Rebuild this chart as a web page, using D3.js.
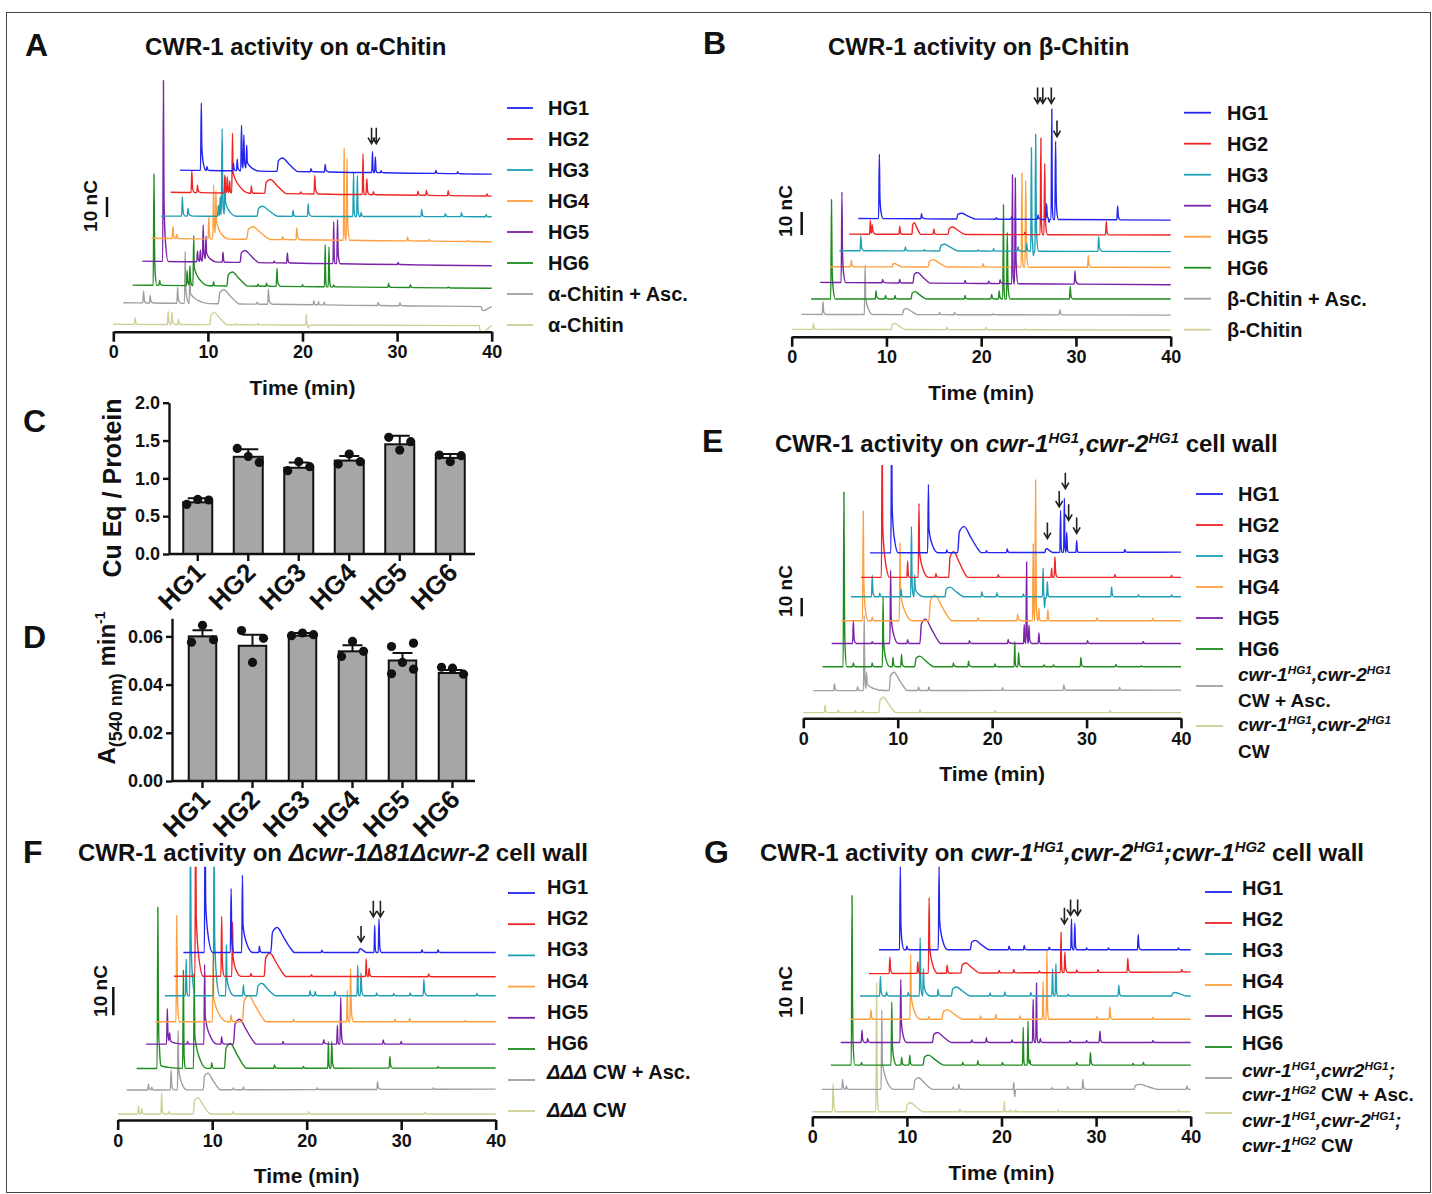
<!DOCTYPE html>
<html>
<head>
<meta charset="utf-8">
<script src="https://cdn.jsdelivr.net/npm/d3@7"></script>
<style>
  body { margin: 0; background: #fff; }
  text { font-family: "Liberation Sans", Arial, Helvetica, sans-serif; font-weight: bold; fill: #111; }
</style>
</head>
<body>
<svg id="fig" width="1432" height="1194"></svg>
<script>
// ---------- data ----------
const timeTicks = [0, 10, 20, 30, 40];
const hgNames = ["HG1", "HG2", "HG3", "HG4", "HG5", "HG6"];

// colour of each legend row (HG1..HG6, + Asc., control)
const colorsMain = ["#2424f0", "#f02424", "#1e9fb4", "#ffa040", "#7a22a8", "#1e8c1e", "#a0a0a0", "#cfcf96"];
const colorsB = ["#2424f0", "#f02424", "#1e9fb4", "#7a22a8", "#ffa040", "#1e8c1e", "#a0a0a0", "#cfcf96"];

// a trace: first time shown, baseline (nC) at start and at 40 min,
// spikes [time, height nC, tail min], humps [start time, height nC, length min]
const T = (start, b0, b1, spikes, humps) => ({ start, base: [b0, b1], spikes, humps: humps || [] });

// Panel A, alpha-chitin (legend order)
const tracesA = [
  T(7.05, 80.8, 78.8, [[9.3,33.8,0.5],[9.9,2,0.3],[12.7,3.8,0.3],[13.1,5.8,0.3],[13.55,22.8,0.25],[13.8,18,0.4],[14.1,12,1.4],[20.9,1.5,0.3],[22.4,3.8,0.4],[27.4,10.5,0.15],[27.7,7.8,0.2],[28.3,1,0.3],[34.1,1.5,0.3],[36.4,1,0.3]], [[17.3,6.7,2.2]]),
  T(6.06, 69.7, 67.8, [[8.3,10.8,0.3],[8.9,3.7,0.4],[11.8,9,0.2],[12.05,8,0.2],[12.3,6,0.2],[12.6,30,1.8],[14.6,3.7,0.2],[19.8,1,0.3],[21.3,9.2,0.4],[26.4,20.3,0.15],[26.8,8,0.3],[27.5,1.5,0.3],[32.2,2,0.3],[33.1,2.5,0.3],[35.4,2.5,0.3],[39.5,1,0.3]], [[16,7,2.3]]),
  T(5.04, 57.8, 57.5, [[7.3,9.7,0.3],[7.9,4,0.5],[11.1,5.5,0.2],[11.3,9.7,0.2],[11.5,43.8,0.25],[11.8,20,1.2],[19,3,0.3],[20.6,6.3,0.4],[25.4,22,0.15],[25.8,20.5,0.2],[26.2,2,0.3],[32.6,3.5,0.3],[35.1,1.5,0.3],[36.8,2,0.3],[39.4,1,0.3]], [[15.2,5,2.2]]),
  T(4.05, 46.7, 45, [[6.3,6,0.3],[6.7,2,0.3],[10.1,11,0.2],[10.6,27,0.4],[10.85,22,1.4],[17.9,1.5,0.3],[19.4,6,0.4],[24.4,46,0.15],[24.7,41,0.3],[31.1,2,0.3],[33.4,1,0.3],[37.5,0.5,0.3]], [[14.1,6.3,2.5]]),
  T(3.07, 35.3, 33, [[5.3,90.5,0.5],[8.9,5.5,0.3],[9.2,6,0.3],[9.5,18.5,0.4],[9.8,12,1.2],[11.6,5,0.2],[17,0.8,0.3],[18.4,5,0.3],[23.3,21,0.15],[23.7,22,0.3],[30.1,1,0.3]], [[13.4,6,2]]),
  T(2.04, 23.3, 21.7, [[4.3,55.5,0.3],[4.9,2.5,0.3],[7.8,7.5,0.3],[8.1,10,0.3],[8.5,25,1.6],[10.6,2,0.2],[15.3,1,0.3],[16.2,1.5,0.3],[17.3,9,0.4],[20,1,0.3],[22.4,21,0.15],[22.8,20,0.2],[23.3,1,0.3],[29.1,2,0.3],[31.4,1.5,0.3],[35.4,0.5,0.3]], [[12,7,2.2]]),
  T(1.06, 14.5, 12.5, [[3.2,5.8,0.3],[3.9,3.8,0.4],[6.8,8,0.4],[7.6,26,0.4],[8.1,14,2.0],[15.2,1,0.3],[16.4,7.5,0.4],[21.2,2,0.2],[21.7,1.5,0.2],[22.3,1.5,0.2],[28,1.5,0.3],[30.3,1.5,0.3]], [[11.1,7,2.2],[38.9,-2,1.1]]),
  T(0, 3.7, 3.0, [[2.3,3.3,0.3],[5.8,6.5,0.3],[6.2,6,0.4],[6.9,2.5,0.3],[13,0.5,0.3],[15.3,0.8,0.3],[20.4,5.5,0.15],[20.6,-1.5,0.4]], [[10.2,6,1.8],[38.7,-4,1.3]])
];
const arrowsA = [[27.3, 94], [27.8, 94]];

// Panel B, beta-chitin (legend order; HG4 purple, HG5 orange)
const tracesB = [
  T(7.03, 51.4, 50.7, [[9.25,28,0.4],[13.7,2.2,0.5],[21.6,0.7,0.3],[23.2,1,0.3],[26,1.9,0.4],[26.9,6.8,0.3],[27.15,-1.5,0.2],[27.45,48,0.15],[27.85,34,0.3],[34.4,6,0.3]], [[17.4,2.5,2]]),
  T(6.05, 44.6, 44.2, [[8.3,6,0.2],[8.5,4,0.4],[11.4,3.5,0.3],[15,2.3,0.3],[24.6,1,0.3],[26.3,42,0.15],[26.7,31,0.3],[33.2,5.8,0.3]], [[12.7,5,0.9],[16.5,3.2,1.8]]),
  T(5.03, 37.4, 37, [[7.3,6.4,0.3],[12,1.7,0.4],[14,0.5,0.3],[19.7,0.5,0.3],[21.3,1,0.3],[23.9,2,0.3],[24.8,3.5,0.3],[25.3,45,0.2],[25.5,-2,0.3],[25.75,51,0.3],[32.4,6.4,0.4]], [[15.6,2.9,2]]),
  T(3, 23.6, 22.6, [[5.3,39.4,0.4],[9.6,1.5,0.4],[11.4,1.5,0.2],[18.3,1.3,0.3],[20.8,1,0.3],[22,1.7,0.4],[23.3,47.4,0.15],[23.6,46,0.3],[29.9,5.7,0.4]], [[12.8,4.6,1.8]]),
  T(4.05, 30.4, 30.1, [[6.3,2.9,0.3],[20.2,1.5,0.3],[23.7,2,0.3],[24.3,40.9,0.15],[24.7,37.7,0.3],[31.3,5.1,0.3]], [[10.6,1.5,1],[14.4,3.2,2]]),
  T(2.04, 16.4, 16.4, [[4.2,43.3,0.4],[8.9,3.6,0.4],[9.9,1.5,0.3],[10.9,1.5,0.3],[18.3,1.5,0.3],[21.1,2,0.3],[21.9,3.6,0.3],[22.35,41,0.15],[22.75,29,0.3],[29.4,5.4,0.3]], [[12.6,3.2,1.6]]),
  T(1, 9.7, 9.4, [[3.3,5.5,0.3],[7.75,21.6,0.8],[15.6,1,0.3],[17.2,1,0.3],[21.3,0.5,0.3],[28.3,2.2,0.4]], [[11.7,2.6,1.6]]),
  T(0, 3.2, 2.9, [[2.3,2.6,0.3],[16.4,1,0.3],[20.5,1,0.3],[24.6,0.3,0.3]], [[10.5,2.6,1.5]])
];
const arrowsB = [[25.95, 101.4], [26.5, 101.4], [27.4, 101.4], [28.0, 87]];

// Panel E, cwr-1HG1,cwr-2HG1 cell wall
const tracesE = [
  T(7.06, 90.4, 90.8, [[9.35,70,0.7],[13.25,37.3,1],[15.2,1.5,0.3],[19.4,1,0.3],[21.6,2,0.3],[27.25,23,0.15],[27.65,29.6,0.15],[27.9,11,0.2],[28.95,6.5,0.2],[34.05,1.5,0.3]], [[16.35,14.2,2.5],[25.6,2,0.8]]),
  T(6.1, 77, 77, [[8.35,80,0.8],[11.05,8.9,0.2],[12.25,40.4,1],[14.05,2,0.3],[20.65,1.5,0.3],[26.3,5,0.15],[26.65,11.3,0.3],[33,1.5,0.3],[39,1,0.3]], [[15.4,14,2]]),
  T(5.05, 66.4, 66.4, [[7.3,11.8,0.3],[8.1,2,0.3],[10.35,4,0.3],[11.45,38.5,0.25],[11.8,12,1],[18.9,2.7,0.4],[20.5,2.2,0.4],[23.3,1.5,0.3],[25.4,15.8,0.15],[25.55,-6,0.25],[25.85,8.2,0.2],[32.65,5.3,0.3],[35.5,1,0.3],[39,1,0.3]], [[15,5.3,2]]),
  T(4.05, 53.3, 53.3, [[6.35,60,0.5],[7.3,2,0.3],[10.25,42.7,1.3],[18.5,1.5,0.3],[22.7,3.6,0.5],[24.35,42,0.15],[24.6,77,0.2],[24.95,6.7,0.2],[25.9,6.2,0.2],[31.1,1.5,0.3],[37,1.2,0.3]], [[13.3,14,2.4]]),
  T(3, 40.9, 40.9, [[5.3,12.4,0.3],[7.3,1,0.3],[9.25,40,0.8],[11.05,2,0.3],[17.6,1.5,0.3],[21.7,2.2,0.5],[23.4,10.4,0.15],[23.65,44.5,0.15],[23.9,10,0.3],[24.95,5.8,0.2],[30.1,1.5,0.3],[36,1,0.3]], [[12.35,13.3,2.2]]),
  T(2.05, 28.2, 28.2, [[4.3,95.5,0.3],[5.3,2,0.3],[7.3,2,0.3],[8.45,38,0.7],[9.5,5,0.3],[10.4,6.7,0.3],[15.9,2,0.4],[17.5,3,0.4],[20.3,1.5,0.3],[22.4,13.6,0.15],[22.8,7.8,0.3],[25.5,1,0.3],[26.5,1,0.3],[29.4,5,0.3],[33.1,1.2,0.3],[35.8,0.5,0.3]], [[11.8,5.8,2]]),
  T(1.06, 15.1, 15.4, [[3.3,3.8,0.3],[5.75,2.2,0.3],[6.45,41,0.2],[6.7,10,1.8],[12.2,2,0.3],[13.3,2,0.3],[21.1,1.5,0.2],[27.6,3,0.3],[33.5,1.5,0.3]], [[9.1,10,1.9]]),
  T(0, 3.1, 3.1, [[2.3,4.2,0.3],[3.7,1.5,0.3],[5.5,1,0.3],[6.3,1,0.3],[12.35,1.5,0.3],[20.3,1,0.3],[32.5,1,0.3]], [[8,8.4,1.8]])
];
const arrowsE = [[25.85, 98.2], [27.1, 115.5], [27.75, 125.5], [28.1, 108.2], [28.95, 101]];

// Panel F, delta-delta-delta cell wall
const tracesF = [
  T(6.95, 59.2, 59.2, [[9.25,50,0.8],[12,22.6,0.3],[13.2,27.3,1.1],[15,2.2,0.3],[21.6,0.8,0.3],[27.2,9.6,0.15],[27.65,11.8,0.25],[32.2,1,0.3],[33.9,1,0.3]], [[16.2,8.8,2.5],[25.5,1.3,0.8]]),
  T(5.95, 50.8, 50.6, [[8.25,60,0.8],[11,21.2,0.3],[12.15,19.2,0.9],[14.1,1,0.3],[20.5,0.6,0.3],[26.3,6.2,0.15],[26.6,3,0.3],[32.9,1,0.3]], [[15.5,8.2,2.3]]),
  T(5, 43.9, 43.9, [[7.25,13,0.2],[7.7,60,0.5],[10.2,60,0.6],[11.5,18.1,0.8],[13.3,3.8,0.3],[20.35,1.8,0.3],[20.9,1.5,0.3],[23,1.5,0.3],[25.4,10.8,0.15],[25.75,8.1,0.3],[27.4,1,0.3],[29.2,0.8,0.3],[30.95,1,0.3],[32.4,5.8,0.4],[38,0.8,0.3]], [[14.7,4.4,2]]),
  T(4, 34.7, 34.7, [[6.25,37.6,0.3],[10.1,24.4,1.5],[12,2.4,0.3],[18.6,1,0.3],[24.3,11.2,0.15],[24.65,18.8,0.3],[29.35,1,0.3],[30.9,1.2,0.3],[36.8,0.5,0.3]], [[13.2,9.2,2.5]]),
  T(3, 26.8, 26.8, [[5.25,12.6,0.4],[5.5,3,1.5],[7.4,1,0.3],[9.2,28.2,1.3],[11,2.6,0.3],[17.5,1,0.3],[21.8,1.6,0.6],[23.25,6.7,0.15],[23.6,16.5,0.3],[28.1,1.5,0.3],[30,1,0.3]], [[12.25,8.8,2.4]]),
  T(2, 18.2, 18.4, [[4.25,57,0.3],[4.4,3,2.4],[6.95,34.7,0.2],[8.1,33.5,1.3],[9.95,2,0.3],[16.6,1.2,0.3],[19.65,0.6,0.3],[22.3,9.4,0.15],[22.65,9.4,0.3],[28.8,4.1,0.3],[33.9,0.5,0.3]], [[11.3,8.8,2.3]]),
  T(0.95, 10.6, 10.9, [[3.25,2,0.3],[3.6,1,0.3],[5.65,7,0.3],[6.4,21,0.9],[12.25,0.6,0.3],[13.3,1,0.3],[21.1,0.6,0.3],[27.5,2.7,0.4],[33.4,0.5,0.3]], [[9.05,5.9,1.8]]),
  T(0, 2.1, 2.1, [[2.2,2.9,0.2],[2.55,2,0.3],[4.65,7.3,0.2],[5.4,0.8,0.3],[12.2,0.8,0.3],[20.2,0.8,0.3],[32.5,0.5,0.3]], [[8,5.8,1.8]])
];
const arrowsF = [[25.75, 62.9], [27.05, 71.8], [27.8, 71.8]];

// Panel G, cwr-1HG1,cwr-2HG1;cwr-1HG2 cell wall
const tracesG = [
  T(7.05, 96.5, 96.5, [[9.3,48,0.4],[10,2,0.3],[13.4,48,0.9],[20.8,2.1,0.3],[22.4,2.5,0.3],[25.05,1.5,0.3],[27.4,17.9,0.15],[27.75,15.4,0.2],[29,1,0.3],[31.3,1,0.3],[34.45,8.8,0.3],[38.7,1,0.3]], [[16.7,5.4,2]]),
  T(5.99, 82.7, 83.7, [[8.2,9.6,0.3],[11.15,6.7,0.2],[12.35,43.8,0.9],[14.25,4.8,0.3],[19.75,1.5,0.3],[21.3,2,0.3],[24,1,0.3],[26.3,23.5,0.15],[26.7,11.9,0.3],[27.95,1.5,0.3],[30.2,1.5,0.3],[33.35,8.1,0.3],[39.05,1.5,0.3]], [[15.7,5.8,2]]),
  T(5.05, 69.8, 69.8, [[7.2,11.3,0.3],[7.85,2.3,0.3],[10.15,2,0.3],[11.4,33.7,0.25],[11.75,15.8,0.7],[13.3,3.7,0.3],[18.8,1.7,0.3],[20.35,2.3,0.3],[23.1,2,0.3],[25.4,15.8,0.15],[25.75,18.7,0.2],[27.05,1,0.3],[32.4,6.2,0.3]], [[14.7,5.2,2],[38,2,1.5]]),
  T(4.05, 56.3, 56.3, [[6.2,5.2,0.3],[10.4,37.5,1],[12.3,1.5,0.3],[17.8,2,0.3],[19.4,2.9,0.3],[21.95,2,0.3],[24.4,22,0.15],[24.8,39.8,0.2],[30.1,1.5,0.3],[31.45,7.1,0.3],[36,1,0.3]], [[13.7,5.6,2.2]]),
  T(3, 42.9, 42.9, [[5.25,7.1,0.3],[5.85,2.3,0.3],[9.35,36.5,0.6],[16.85,1.5,0.3],[18.4,2.7,0.3],[21.1,1.5,0.3],[23.35,25,0.15],[23.7,34.4,0.15],[24.1,2.3,0.3],[27.25,1.2,0.3],[29,1.2,0.3],[30.4,6.7,0.3],[36,1.2,0.3]], [[12.7,5.8,2]]),
  T(1.97, 29.8, 29.8, [[4.2,98,0.3],[5.2,1.5,0.3],[8.4,36.5,0.5],[9.45,4.4,0.3],[10.3,5.8,0.3],[15.9,1.5,0.3],[17.5,2.5,0.3],[20.1,1.5,0.3],[22.3,22,0.15],[22.8,25.4,0.15],[23,3,0.3],[27.95,1.5,0.3],[29.4,7.3,0.3],[33.9,1,0.3],[35,1.5,0.3]], [[11.7,5.8,2.2]]),
  T(1, 15.8, 15.8, [[3.2,5.8,0.3],[3.6,2,0.3],[7.35,45.8,1.2],[14.9,1.5,0.3],[15.5,3,0.3],[21.3,4,0.1],[21.4,-4.2,0.2],[25.3,1,0.3],[27,1.5,0.3],[28.6,5.8,0.3],[39.6,2,0.3]], [[10.7,6.7,2],[34,2.9,2.5]]),
  T(0, 2.9, 2.9, [[2.2,16.3,0.3],[6.8,74.4,0.2],[15.6,1.5,0.3],[20.3,5.8,0.15],[20.9,1,0.2],[21.5,1,0.2],[26,1,0.3],[38.7,1,0.3]], [[9.9,5.2,1.8]])
];
const arrowsG = [[26.65, 111.5], [27.3, 116.3], [28.05, 116.3]];

// Panel C: copper equivalents / protein
const cMeans = [0.683, 1.285, 1.14, 1.235, 1.45, 1.27];
const cSD = [0.053, 0.1, 0.071, 0.06, 0.114, 0.052];
const cPoints = [[0.656, 0.722, 0.714], [1.396, 1.29, 1.211], [1.101, 1.22, 1.154], [1.189, 1.322, 1.22], [1.542, 1.374, 1.485], [1.308, 1.22, 1.3]];
const cTicks = [0, 0.5, 1.0, 1.5, 2.0];

// Panel D: A540 per min
const dMeans = [0.0600, 0.0561, 0.0603, 0.0538, 0.0500, 0.0448];
const dSD = [0.0025, 0.0046, 0.0011, 0.0025, 0.0031, 0.0013];
const dPoints = [[0.0576, 0.0646, 0.0586], [0.0624, 0.0492, 0.0592], [0.0603, 0.0614, 0.0607], [0.0517, 0.0579, 0.0538], [0.0558, 0.0445, 0.0492, 0.0572, 0.0464], [0.0472, 0.0468, 0.0443]];
const dTicks = [0, 0.02, 0.04, 0.06];

// legends: each entry = list of lines, each line = list of [text, flags] (i italic, s superscript)
const hgLegend = hgNames.map(n => [[[n, ""]]]);
const legendA = hgLegend.concat([[[["α-Chitin + Asc.", ""]]], [[["α-Chitin", ""]]]]);
const legendB = hgLegend.concat([[[["β-Chitin + Asc.", ""]]], [[["β-Chitin", ""]]]]);
const legendE = hgLegend.concat([
  [[["cwr-1", "i"], ["HG1", "is"], [",cwr-2", "i"], ["HG1", "is"]], [["CW + Asc.", ""]]],
  [[["cwr-1", "i"], ["HG1", "is"], [",cwr-2", "i"], ["HG1", "is"]], [["CW", ""]]]
]);
const legendF = hgLegend.concat([
  [[["ΔΔΔ", "i"], [" CW + Asc.", ""]]],
  [[["ΔΔΔ", "i"], [" CW", ""]]]
]);
const legendG = hgLegend.concat([
  [[["cwr-1", "i"], ["HG1", "is"], [",cwr2", "i"], ["HG1", "is"], [";", "i"]], [["cwr-1", "i"], ["HG2", "is"], [" CW + Asc.", ""]]],
  [[["cwr-1", "i"], ["HG1", "is"], [",cwr-2", "i"], ["HG1", "is"], [";", "i"]], [["cwr-1", "i"], ["HG2", "is"], [" CW", ""]]]
]);

const titleA = [["CWR-1 activity on α-Chitin", ""]];
const titleB = [["CWR-1 activity on β-Chitin", ""]];
const titleE = [["CWR-1 activity on ", ""], ["cwr-1", "i"], ["HG1", "is"], [",cwr-2", "i"], ["HG1", "is"], [" cell wall", ""]];
const titleF = [["CWR-1 activity on ", ""], ["Δcwr-1Δ81Δcwr-2", "i"], [" cell wall", ""]];
const titleG = [["CWR-1 activity on ", ""], ["cwr-1", "i"], ["HG1", "is"], [",cwr-2", "i"], ["HG1", "is"], [";cwr-1", "i"], ["HG2", "is"], [" cell wall", ""]];

// ---------- drawing ----------
const svg = d3.select("#fig");
svg.append("rect").attr("x", 6.5).attr("y", 12.5).attr("width", 1424).attr("height", 1180)
  .attr("fill", "none").attr("stroke", "#444").attr("stroke-width", 1);

function rich(sel, parts, size) {
  let shift = 0;
  parts.forEach(([s, f]) => {
    const ts = sel.append("tspan").text(s);
    const sup = f.includes("s");
    const target = sup ? -size * 0.36 : 0;
    if (target !== shift) { ts.attr("dy", target - shift); shift = target; }
    if (f.includes("i")) ts.attr("font-style", "italic");
    if (sup) ts.attr("font-size", size * 0.62);
  });
}

function label(x, y, parts, size, anchor) {
  const t = svg.append("text").attr("x", x).attr("y", y).attr("font-size", size)
    .attr("text-anchor", anchor || "start");
  rich(t, parts, size);
  return t;
}

function shapeOf(p, hump) {
  const [t, h, w] = p;
  if (hump) return [[t, 0], [t + 0.07 * w, 0.8 * h], [t + 0.27 * w, h], [t + 0.55 * w, 0.6 * h], [t + 0.85 * w, 0.15 * h], [t + w, 0]];
  const a = Math.min(0.06, w / 4);
  return [[t - 0.08, 0], [t, h], [t + a, 0.35 * h], [t + 0.4 * w, 0.12 * h], [t + w, 0]];
}

function interp(pts, x) {
  if (x <= pts[0][0] || x >= pts[pts.length - 1][0]) return 0;
  for (let i = 1; i < pts.length; i++) {
    if (x <= pts[i][0]) {
      const [x0, y0] = pts[i - 1], [x1, y1] = pts[i];
      return y0 + (y1 - y0) * (x - x0) / (x1 - x0);
    }
  }
  return 0;
}

function buildTrace(tr) {
  const shapes = tr.spikes.map(p => shapeOf(p, false)).concat(tr.humps.map(p => shapeOf(p, true)));
  let ts = [tr.start, 40];
  shapes.forEach(s => s.forEach(q => { if (q[0] > tr.start && q[0] < 40) ts.push(q[0]); }));
  ts = Array.from(new Set(ts.map(v => +v.toFixed(4)))).sort((a, b) => a - b);
  return ts.map(t => [t, tr.base[0] + (tr.base[1] - tr.base[0]) * (t - tr.start) / (40 - tr.start) + d3.sum(shapes, s => interp(s, t))]);
}

function chromPanel(box, traces, colors, arrows, legend, title) {
  const x = d3.scaleLinear().domain([0, 40]).range([box.x0, box.x1]);
  const y = d3.scaleLinear().domain([0, 100]).range([box.axisY, box.axisY - 100 * box.k]);
  const g = svg.append("g");

  const clipId = "clip" + box.id;
  svg.append("clipPath").attr("id", clipId).append("rect")
    .attr("x", box.x0 - 3).attr("y", box.clipTop)
    .attr("width", box.x1 - box.x0 + 6).attr("height", box.axisY - box.clipTop);

  const line = d3.line().x(d => x(d[0])).y(d => y(d[1])).curve(d3.curveMonotoneX);
  const gl = g.append("g").attr("clip-path", `url(#${clipId})`);
  traces.map((tr, i) => ({ pts: buildTrace(tr), c: colors[i] })).reverse()
    .forEach(o => gl.append("path").attr("d", line(o.pts)).attr("fill", "none")
      .attr("stroke", o.c).attr("stroke-width", 1.4).attr("stroke-linejoin", "round"));

  const ax = g.append("g").attr("transform", `translate(0,${box.axisY})`)
    .call(d3.axisBottom(x).tickValues(timeTicks).tickSize(10).tickSizeOuter(0).tickPadding(4));
  ax.attr("font-size", 18);
  ax.select(".domain").attr("stroke", "#111").attr("stroke-width", 2.6);
  ax.selectAll(".tick line").attr("stroke", "#111").attr("stroke-width", 2.6);

  svg.append("text").attr("x", (box.x0 + box.x1) / 2).attr("y", box.axisY + 63)
    .attr("text-anchor", "middle").attr("font-size", 21).text("Time (min)");

  // 10 nC scale bar
  svg.append("line").attr("x1", box.barX).attr("x2", box.barX)
    .attr("y1", box.barTop).attr("y2", box.barTop + 10 * box.k)
    .attr("stroke", "#111").attr("stroke-width", 2.5);
  svg.append("text").attr("transform", `translate(${box.labX},${box.labY}) rotate(-90)`)
    .attr("text-anchor", "middle").attr("font-size", 19).text("10 nC");

  // arrows
  arrows.forEach(([t, v]) => {
    const ax0 = x(t), tip = y(v);
    svg.append("path").attr("d", `M${ax0},${tip - 16}V${tip}M${ax0 - 3.5},${tip - 6}L${ax0},${tip}L${ax0 + 3.5},${tip - 6}`)
      .attr("fill", "none").attr("stroke", "#222").attr("stroke-width", 1.6);
  });

  // legend
  legend.forEach((lines, i) => {
    const L = box.leg[i];
    svg.append("line").attr("x1", box.lx0).attr("x2", box.lx1).attr("y1", L.line).attr("y2", L.line)
      .attr("stroke", colors[i]).attr("stroke-width", 1.8);
    const fs = lines.length > 1 ? 19 : 20;
    lines.forEach((parts, j) => label(box.tx, L.text[j] + 7, parts, fs));
  });

  label(box.titleX, box.titleY, title, 24);
}

function rowsHG(first, step, lineDy) {
  return d3.range(6).map(i => ({ text: [first + step * i], line: first + step * i + lineDy }));
}

chromPanel({ id: "A", x0: 113.3, x1: 491.7, axisY: 331.7, k: 2.0, clipTop: 60,
  barX: 107, barTop: 197, labX: 97, labY: 206,
  lx0: 507, lx1: 533, tx: 548,
  leg: d3.range(8).map(i => ({ text: [108 + 31 * i], line: 108 + 31 * i })),
  titleX: 145, titleY: 54.5 }, tracesA, colorsMain, arrowsA, legendA, titleA);

chromPanel({ id: "B", x0: 791.7, x1: 1170.7, axisY: 336.7, k: 2.3, clipTop: 60,
  barX: 801.7, barTop: 212, labX: 792, labY: 211,
  lx0: 1184, lx1: 1211, tx: 1227,
  leg: d3.range(8).map(i => ({ text: [112.7 + 31 * i], line: 112.7 + 31 * i })),
  titleX: 828, titleY: 54.5 }, tracesB, colorsB, arrowsB, legendB, titleB);

chromPanel({ id: "E", x0: 803.3, x1: 1181, axisY: 718.3, k: 1.83, clipTop: 465,
  barX: 801.7, barTop: 598, labX: 792, labY: 591,
  lx0: 1196, lx1: 1223, tx: 1238,
  leg: rowsHG(494, 31, 0).concat([{ text: [674, 700], line: 686 }, { text: [724, 751], line: 726 }]),
  titleX: 775, titleY: 451.5 }, tracesE, colorsMain, arrowsE, legendE, titleE);

chromPanel({ id: "F", x0: 117.7, x1: 495.7, axisY: 1120, k: 2.83, clipTop: 866.7,
  barX: 113.3, barTop: 987, labX: 107, labY: 991,
  lx0: 508, lx1: 535, tx: 547,
  leg: rowsHG(887, 31.2, 6).concat([{ text: [1072], line: 1080 }, { text: [1110], line: 1111 }]),
  titleX: 78, titleY: 860.5 }, tracesF, colorsMain, arrowsF, legendF, titleF);

chromPanel({ id: "G", x0: 812.3, x1: 1190.7, axisY: 1116.7, k: 1.73, clipTop: 850,
  barX: 801.7, barTop: 997, labX: 792, labY: 992,
  lx0: 1205, lx1: 1232, tx: 1242,
  leg: rowsHG(888, 31, 4).concat([{ text: [1070, 1094], line: 1078 }, { text: [1120, 1145], line: 1113 }]),
  titleX: 760, titleY: 860.5 }, tracesG, colorsMain, arrowsG, legendG, titleG);

// ---------- bar panels ----------
function barPanel(box, means, sds, points, ticks, fmt) {
  const x = d3.scaleBand().domain(hgNames).range([box.bandL, box.bandR]).paddingInner(0.4).paddingOuter(0.2);
  const y = d3.scaleLinear().domain([0, box.dmax]).range([box.y0, box.y1]);
  const g = svg.append("g");
  const bw = box.barW;

  g.selectAll("rect.bar").data(means).join("rect").attr("class", "bar")
    .attr("x", (d, i) => x(hgNames[i]) + x.bandwidth() / 2 - bw / 2)
    .attr("y", d => y(d)).attr("width", bw).attr("height", d => box.y0 - y(d))
    .attr("fill", "#a6a6a8").attr("stroke", "#111").attr("stroke-width", 2);

  means.forEach((m, i) => {
    const cx = x(hgNames[i]) + x.bandwidth() / 2;
    g.append("path").attr("d", `M${cx},${y(m)}V${y(m + sds[i])}M${cx - 10},${y(m + sds[i])}H${cx + 10}`)
      .attr("stroke", "#111").attr("stroke-width", 2).attr("fill", "none");
    const n = points[i].length;
    points[i].forEach((v, j) => {
      const off = n === 5 ? [-11, -11, 0, 11, 11][j] : (j - (n - 1) / 2) * 11;
      g.append("circle").attr("cx", cx + off).attr("cy", y(v)).attr("r", 4.6).attr("fill", "#111");
    });
  });

  const ay = g.append("g").attr("transform", `translate(${box.axisX},0)`)
    .call(d3.axisLeft(y).tickValues(ticks).tickFormat(d3.format(fmt)).tickSize(6).tickSizeOuter(0).tickPadding(3));
  ay.attr("font-size", 18);
  ay.select(".domain").attr("stroke", "#111").attr("stroke-width", 2.4);
  ay.selectAll(".tick line").attr("stroke", "#111").attr("stroke-width", 2.4);

  const axb = g.append("g").attr("transform", `translate(0,${box.y0})`)
    .call(d3.axisBottom(x).tickSize(7).tickSizeOuter(0));
  axb.select(".domain").remove();
  axb.selectAll(".tick line").attr("stroke", "#111").attr("stroke-width", 2.4);
  axb.selectAll(".tick text").remove();
  g.append("line").attr("x1", box.axisX).attr("x2", box.xEnd).attr("y1", box.y0).attr("y2", box.y0)
    .attr("stroke", "#111").attr("stroke-width", 2.4);

  hgNames.forEach(n => {
    const cx = x(n) + x.bandwidth() / 2;
    svg.append("text").attr("transform", `translate(${cx + 9},${box.y0 + 20}) rotate(-45)`)
      .attr("text-anchor", "end").attr("font-size", 26).text(n);
  });
}

barPanel({ bandL: 172.5, bandR: 475.5, barW: 29, y0: 554, y1: 402.7, dmax: 2.0, axisX: 169, xEnd: 475 },
  cMeans, cSD, cPoints, cTicks, ".1f");
barPanel({ bandL: 177.5, bandR: 477.5, barW: 27.5, y0: 781, y1: 618.3, dmax: 0.0675, axisX: 172, xEnd: 475 },
  dMeans, dSD, dPoints, dTicks, ".2f");

svg.append("text").attr("transform", "translate(121,488) rotate(-90)")
  .attr("text-anchor", "middle").attr("font-size", 25).text("Cu Eq / Protein");

const dl = svg.append("text").attr("transform", "translate(115,688) rotate(-90)")
  .attr("text-anchor", "middle").attr("font-size", 24);
dl.append("tspan").text("A");
dl.append("tspan").attr("font-size", 18).attr("dy", 7).text("(540 nm)");
dl.append("tspan").attr("dy", -7).text(" min");
dl.append("tspan").attr("font-size", 14).attr("dy", -10).text("-1");

// panel letters
[["A", 25, 56], ["B", 703, 54], ["C", 23, 432], ["D", 23, 648], ["E", 702, 452], ["F", 23, 863], ["G", 704, 863]]
  .forEach(([s, x, y]) => svg.append("text").attr("x", x).attr("y", y).attr("font-size", 32).text(s));
</script>
</body>
</html>
